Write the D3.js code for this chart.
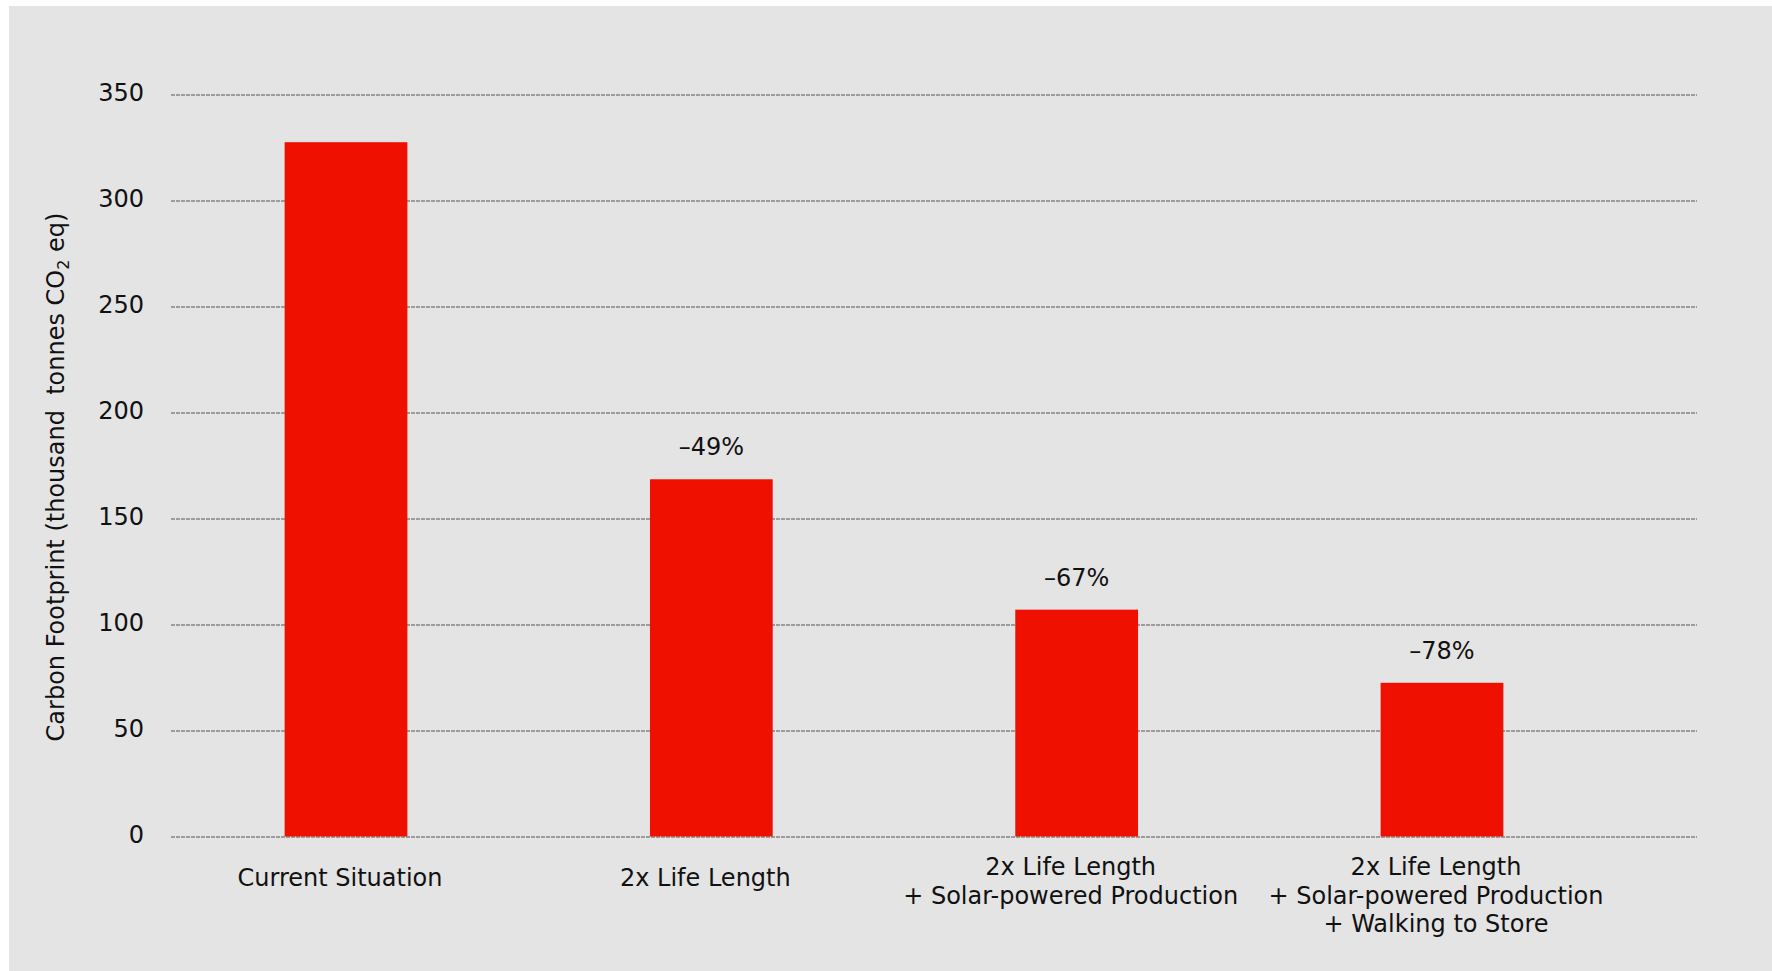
<!DOCTYPE html>
<html>
<head>
<meta charset="utf-8">
<script src="https://cdn.jsdelivr.net/npm/d3@7"></script>
<style>
  body { margin: 0; background: #fff; }
  text { font-family: "DejaVu Sans", Verdana, sans-serif; fill: #111; }
</style>
</head>
<body>
<svg id="chart" width="1772" height="971"></svg>
<script>
// chart data
const categories = [
  'Current Situation',
  '2x Life Length',
  '2x Life Length\n+ Solar-powered Production',
  '2x Life Length\n+ Solar-powered Production\n+ Walking to Store'
];
const footprint = [327.5, 168.5, 107, 72.5];   // thousand tonnes CO2 eq
const changeLabels = ['', '–49%', '–67%', '–78%'];
const yTicks = [0, 50, 100, 150, 200, 250, 300, 350];

const svg = d3.select('#chart');

// grey panel
svg.append('rect')
  .attr('x', 9).attr('y', 6)
  .attr('width', 1772 - 9).attr('height', 971 - 6)
  .attr('fill', '#e4e4e4');

const plotLeft = 171, plotRight = 1697;
const y = d3.scaleLinear().domain([0, 350]).range([836.5, 94.5]);
const x = d3.scalePoint().domain(categories).range([346, 1442]);
const barWidth = x.step() * 0.336;

// y axis + dashed gridlines
const yAxis = svg.append('g')
  .attr('transform', `translate(${plotLeft},0)`)
  .call(d3.axisLeft(y)
    .tickValues(yTicks)
    .tickSize(-(plotRight - plotLeft))
    .tickPadding(27));

yAxis.select('.domain').remove();
yAxis.selectAll('.tick line')
  .attr('stroke', '#555')
  .attr('stroke-width', 1)
  .attr('stroke-dasharray', '4,1');
yAxis.selectAll('.tick text')
  .attr('font-size', 24)
  .attr('font-family', '"DejaVu Sans", Verdana, sans-serif')
  .attr('fill', '#111')
  .attr('dy', '0.25em');

// bars
svg.selectAll('rect.bar')
  .data(footprint)
  .enter()
  .append('rect')
  .attr('class', 'bar')
  .attr('x', (d, i) => x(categories[i]) - barWidth / 2)
  .attr('y', d => y(d))
  .attr('width', barWidth)
  .attr('height', d => y(0) - y(d))
  .attr('fill', '#f01000');

// percentage change labels above bars
svg.selectAll('text.change')
  .data(changeLabels)
  .enter()
  .append('text')
  .attr('class', 'change')
  .attr('x', (d, i) => x(categories[i]))
  .attr('y', (d, i) => y(footprint[i]) - 24)
  .attr('text-anchor', 'middle')
  .attr('font-size', 24)
  .text(d => d);

// category labels (multi-line)
const catLabels = svg.selectAll('text.cat')
  .data(categories)
  .enter()
  .append('text')
  .attr('class', 'cat')
  .attr('text-anchor', 'middle')
  .attr('font-size', 24)
  .attr('y', d => d.includes('\n') ? 875 : 886);

catLabels.each(function (d) {
  const lines = d.split('\n');
  d3.select(this).selectAll('tspan')
    .data(lines)
    .enter()
    .append('tspan')
    .attr('x', x(d) - 6)
    .attr('dy', (l, i) => i === 0 ? 0 : 28.5)
    .text(l => l);
});

// y axis title with subscript
const yTitle = svg.append('text')
  .attr('transform', 'translate(64,477) rotate(-90)')
  .attr('text-anchor', 'middle')
  .attr('font-size', 24)
  .style('white-space', 'pre');
yTitle.append('tspan').text('Carbon Footprint (thousand  tonnes CO');
yTitle.append('tspan').attr('font-size', 16).attr('dy', 5).text('2');
yTitle.append('tspan').attr('dy', -5).text(' eq)');
</script>
</body>
</html>
